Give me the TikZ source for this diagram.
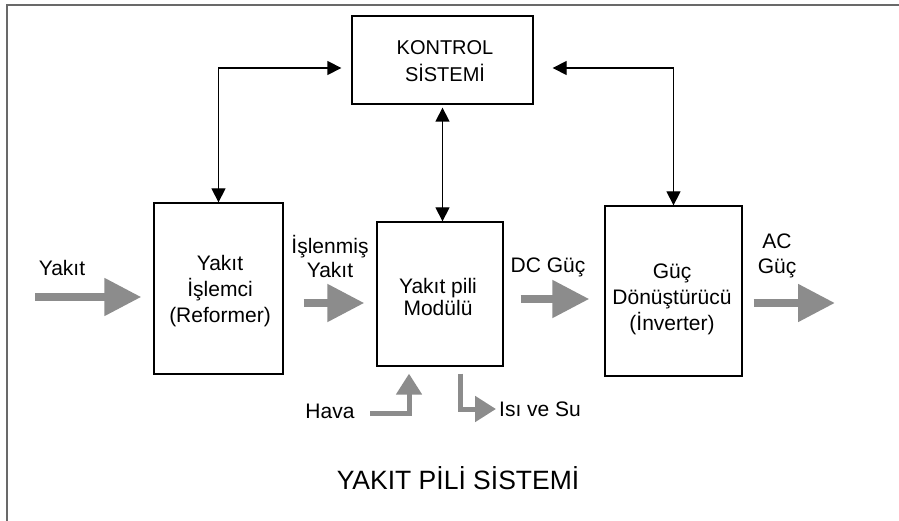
\documentclass[tikz,border=0pt]{standalone}
\usepackage{fontspec}
\setmainfont{Liberation Sans}
\usetikzlibrary{arrows.meta,calc}
\definecolor{arrgray}{RGB}{140,140,140}
\definecolor{framegray}{RGB}{105,105,105}
\tikzset{
  blk/.style={draw=black, line width=1.3pt, inner sep=0pt},
  lbl/.style={font=\fontsize{21}{25}\selectfont, align=center, inner sep=0pt},
  ctl/.style={line width=1.3pt, {Triangle[length=14pt,width=14pt]}-{Triangle[length=14pt,width=14pt]}},
  bigarrow/.style={draw=arrgray, line width=8pt, -{Triangle[length=37pt,width=36pt]}},
  smallarrow/.style={draw=arrgray, line width=5pt, line join=miter, -{Triangle[length=21pt,width=25pt]}},
  framel/.style={draw=framegray, line width=2pt}
}
\begin{document}
\begin{tikzpicture}[x=1pt,y=-1pt]
\useasboundingbox (0,0) rectangle (899,521);
\fill[white] (0,0) rectangle (899,521);
\draw[framel] (899,5) -- (7,5) -- (7,521);

% boxes
\node[blk, minimum width=181pt, minimum height=88pt] (kon) at (442.5,60) {};
\node[blk, minimum width=129pt, minimum height=171pt] (ref) at (218.5,288.5) {};
\node[blk, minimum width=126pt, minimum height=144pt] (mod) at (440,294) {};
\node[blk, minimum width=137pt, minimum height=170pt] (inv) at (673.5,291) {};

% box texts
\node[lbl, font=\fontsize{20}{27}\selectfont] (kont) at (445,61) {KONTROL\\SİSTEMİ};
\node[lbl, font=\fontsize{21}{26}\selectfont] (reft) at (220,291) {Yakıt\\İşlemci\\(Reformer)};
\node[lbl, font=\fontsize{21}{22}\selectfont] (modt) at (438,297) {Yakıt pili\\Modülü};
\node[lbl, font=\fontsize{21}{26}\selectfont] (invt) at (672,299) {Güç\\Dönüştürücü\\(İnverter)};

% outer labels
\node[lbl] (lyakit) at (62,268) {Yakıt};
\node[lbl, font=\fontsize{21}{24}\selectfont] (lisl) at (330,256) {İşlenmiş\\Yakıt};
\node[lbl] (ldc) at (548,267) {DC Güç};
\node[lbl] (lac) at (777,256) {AC\\Güç};
\node[lbl] (lhava) at (330,411) {Hava};
\node[lbl, anchor=west] (lisi) at (499,409) {Isı ve Su};
\node[lbl, font=\fontsize{26.5}{30}\selectfont] (title) at (458,478) {YAKIT PİLİ SİSTEMİ};

% control connectors
\coordinate (kl) at ($(kon.west)+(-10,8)$);
\coordinate (kr) at ($(kon.east)+(19,8)$);
\draw[ctl] (ref.north) |- (kl);
\draw[ctl] (inv.north) |- (kr);
\draw[ctl, shorten <=3pt] (kon.south) -- (kon.south |- mod.north);

% big gray arrows
\coordinate (yin) at (35,297);
\draw[bigarrow, shorten >=12pt] (yin) -- (yin -| ref.west);
\draw[bigarrow, shorten <=20pt, shorten >=12pt] (ref.east |- 0,303) -- (mod.west |- 0,303);
\draw[bigarrow, shorten <=17pt, shorten >=15pt] (mod.east |- 0,299) -- (inv.west |- 0,299);
\coordinate (aout) at (835,303);
\draw[bigarrow, shorten <=11pt] (inv.east |- aout) -- (aout);

% small bent arrows
\coordinate (hv) at (370,413);
\draw[smallarrow, shorten >=7pt] (hv) -| ($(mod.south)+(-31,0)$);
\draw[smallarrow, shorten <=7pt, shorten >=3pt] ($(mod.south)+(20,0)$) |- (lisi.west);
\end{tikzpicture}
\end{document}
